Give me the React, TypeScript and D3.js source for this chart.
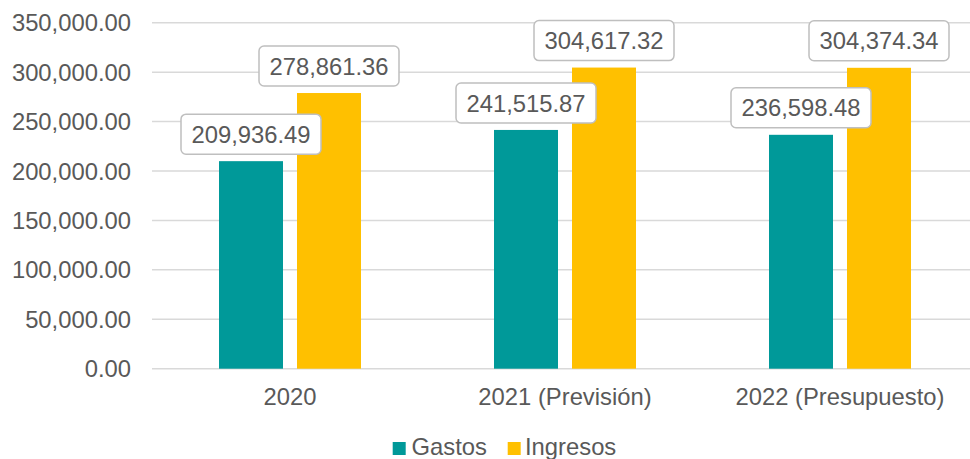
import React from "react";
import * as d3 from "d3";

const categories = ["2020", "2021 (Previsión)", "2022 (Presupuesto)"];
const seriesNames = ["Gastos", "Ingresos"];
const gastos = [209936.49, 241515.87, 236598.48];
const ingresos = [278861.36, 304617.32, 304374.34];
const yTicks = [0, 50000, 100000, 150000, 200000, 250000, 300000, 350000];
const colors = ["#009999", "#FFC000"];

const W = 970;
const H = 459;
const FONT = "Arial, 'Liberation Sans', sans-serif";
const TXT = "#595959";
const FS = 23.8;

export default function App() {
  const x = d3.scaleBand<string>().domain(categories).range([152.5, 977.5]).paddingInner(0).paddingOuter(0);
  const y = d3.scaleLinear().domain([0, 350000]).range([368.7, 22.7]);
  const inner = d3.scaleBand<string>().domain(seriesNames).range([66.5, 208.5]).paddingInner(14 / 78);
  const fmt = d3.format(",.2f");
  const data = [gastos, ingresos];

  return (
    <svg width={W} height={H} style={{ position: "absolute", left: 0, top: 0, background: "#fff" }}>
      {yTicks.map((t) => (
        <g key={t}>
          {t > 0 && <line x1={152} x2={W} y1={y(t)} y2={y(t)} stroke="#d9d9d9" strokeWidth={1.5} />}
          <text x={131} y={y(t)} dy="0.36em" textAnchor="end" fontFamily={FONT} fontSize={FS} fill={TXT}>
            {fmt(t)}
          </text>
        </g>
      ))}
      <line x1={152} x2={W} y1={y(0)} y2={y(0)} stroke="#d9d9d9" strokeWidth={1.5} />
      {categories.map((c, i) => (
        <g key={c}>
          {seriesNames.map((s, k) => {
            const v = data[k][i];
            const bx = (x(c) as number) + (inner(s) as number);
            const bw = inner.bandwidth();
            return (
              <rect key={s} x={bx} y={y(v)} width={bw} height={y(0) - y(v)} fill={colors[k]} />
            );
          })}
          <text x={(x(c) as number) + x.bandwidth() / 2} y={405} textAnchor="middle" fontFamily={FONT} fontSize={FS} fill={TXT}>
            {c}
          </text>
        </g>
      ))}
      {categories.map((c, i) =>
        seriesNames.map((s, k) => {
          const v = data[k][i];
          const cx = (x(c) as number) + (inner(s) as number) + inner.bandwidth() / 2;
          const bw = 140;
          const bh = 40;
          const top = y(v) - 7 - bh;
          return (
            <g key={c + s}>
              <rect x={cx - bw / 2} y={top} width={bw} height={bh} rx={5} ry={5} fill="#fff" stroke="#bfbfbf" strokeWidth={1.5} />
              <text x={cx} y={top + bh / 2} dy="0.36em" textAnchor="middle" fontFamily={FONT} fontSize={FS} fill={TXT}>
                {fmt(v)}
              </text>
            </g>
          );
        })
      )}
      <g>
        <rect x={392.7} y={442} width={13} height={13} fill={colors[0]} />
        <text x={411.5} y={455} fontFamily={FONT} fontSize={FS} fill={TXT}>{seriesNames[0]}</text>
        <rect x={507.7} y={442} width={13} height={13} fill={colors[1]} />
        <text x={525} y={455} fontFamily={FONT} fontSize={FS} fill={TXT}>{seriesNames[1]}</text>
      </g>
    </svg>
  );
}
